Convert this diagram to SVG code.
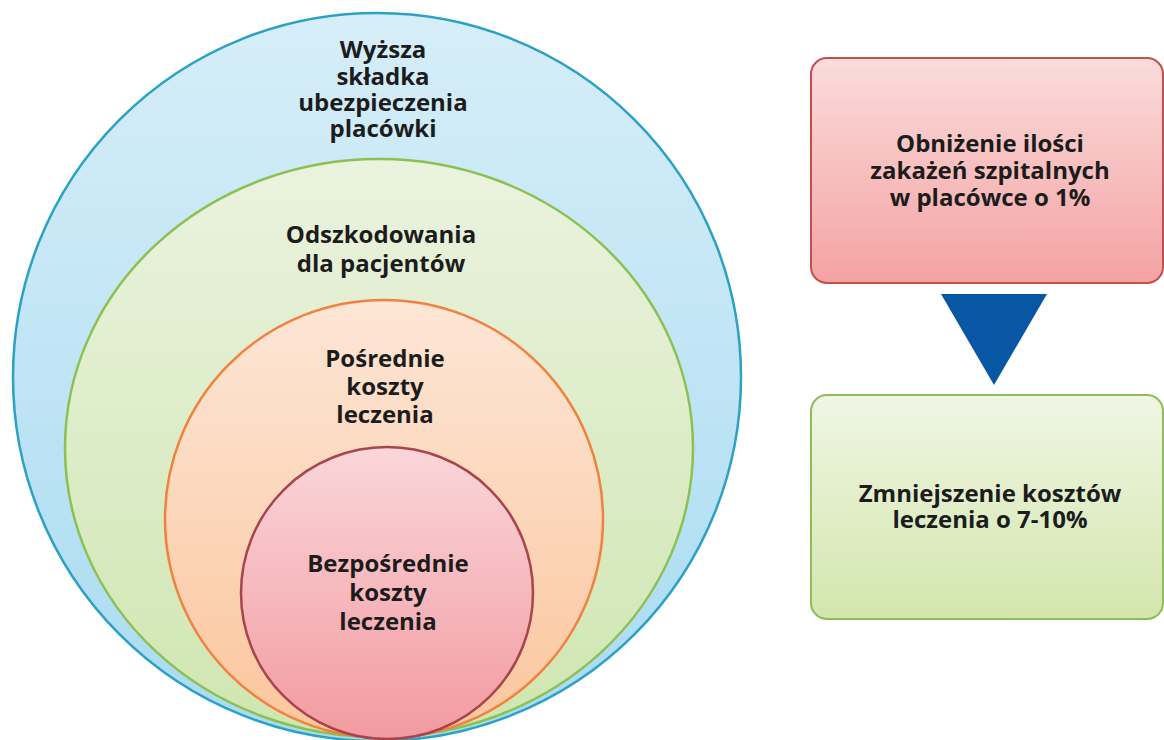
<svg xmlns="http://www.w3.org/2000/svg" width="1164" height="740" viewBox="0 0 1164 740">
<defs>
<linearGradient id="gBlue" x1="0" y1="0" x2="0" y2="1"><stop offset="0" stop-color="#d6eef8"/><stop offset="1" stop-color="#a9dbf2"/></linearGradient>
<linearGradient id="gGreen" x1="0" y1="0" x2="0" y2="1"><stop offset="0" stop-color="#eaf3df"/><stop offset="1" stop-color="#cfe6b0"/></linearGradient>
<linearGradient id="gOrange" x1="0" y1="0" x2="0" y2="1"><stop offset="0" stop-color="#fde6d6"/><stop offset="1" stop-color="#fbc69c"/></linearGradient>
<linearGradient id="gPink" x1="0" y1="0" x2="0" y2="1"><stop offset="0" stop-color="#fad6da"/><stop offset="1" stop-color="#f29aa0"/></linearGradient>
<linearGradient id="gRedBox" x1="0" y1="0" x2="0" y2="1"><stop offset="0" stop-color="#fbdcdc"/><stop offset="1" stop-color="#f4a2a2"/></linearGradient>
<linearGradient id="gGreenBox" x1="0" y1="0" x2="0" y2="1"><stop offset="0" stop-color="#eff6e4"/><stop offset="1" stop-color="#d3e6ad"/></linearGradient>
</defs>
<style>
text{font-family:"Open Sans","Liberation Sans",sans-serif;font-weight:700;font-size:24px;fill:#1c1c1c;text-anchor:middle}
.ring{stroke-width:2.5}
</style>
<rect width="1164" height="740" fill="#ffffff"/>
<g id="ring-blue">
<circle class="ring" cx="377" cy="377" r="364" fill="url(#gBlue)" stroke="#2ba2c4"/>
<text x="383" y="58">Wyższa</text>
<text x="383" y="85">składka</text>
<text x="383" y="111">ubezpieczenia</text>
<text x="383" y="137">placówki</text>
</g>
<g id="ring-green">
<ellipse class="ring" cx="379" cy="448" rx="314" ry="289" fill="url(#gGreen)" stroke="#8cc152"/>
<text x="381" y="243">Odszkodowania</text>
<text x="381" y="272">dla pacjentów</text>
</g>
<g id="ring-orange">
<circle class="ring" cx="384" cy="519" r="219" fill="url(#gOrange)" stroke="#f2803e"/>
<text x="385" y="367">Pośrednie</text>
<text x="385" y="395">koszty</text>
<text x="385" y="423">leczenia</text>
</g>
<g id="ring-pink">
<circle class="ring" cx="387" cy="593" r="146" fill="url(#gPink)" stroke="#a8454c"/>
<text x="388" y="572">Bezpośrednie</text>
<text x="388" y="601">koszty</text>
<text x="388" y="630">leczenia</text>
</g>
<g id="box-red">
<rect x="811" y="58" width="352" height="225" rx="16" fill="url(#gRedBox)" stroke="#c0504d" stroke-width="2"/>
<text x="990" y="152">Obniżenie ilości</text>
<text x="990" y="179">zakażeń szpitalnych</text>
<text x="990" y="206">w placówce o 1%</text>
</g>
<g id="connectors">
<polygon points="941,294 1047,294 994,385" fill="#0757a5"/>
</g>
<g id="box-green">
<rect x="811" y="395" width="352" height="224" rx="16" fill="url(#gGreenBox)" stroke="#8fbc5a" stroke-width="2"/>
<text x="990" y="502">Zmniejszenie kosztów</text>
<text x="990" y="528">leczenia o 7-10%</text>
</g>
</svg>
